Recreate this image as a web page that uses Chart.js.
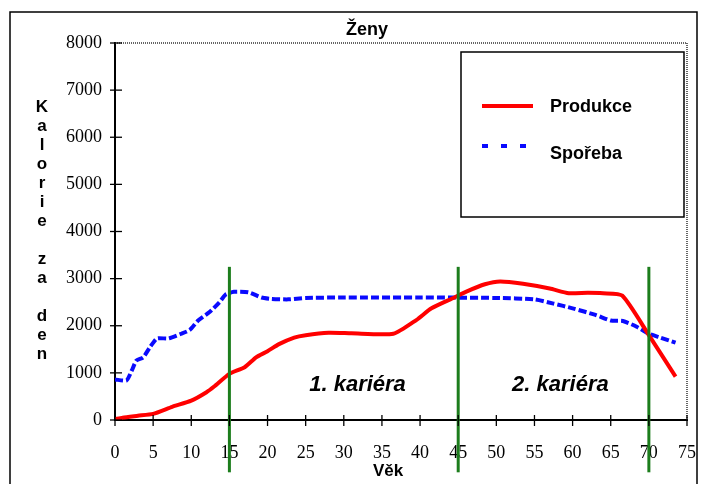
<!DOCTYPE html>
<html>
<head>
<meta charset="utf-8">
<script src="https://cdn.jsdelivr.net/npm/chart.js@4.4.1/dist/chart.umd.min.js"></script>
<style>
  html, body { margin: 0; padding: 0; background: #fff; }
  #wrap { width: 701px; height: 484px; position: relative; }
</style>
</head>
<body>
<div id="wrap"><canvas id="chart" width="701" height="484"></canvas></div>
<script>
// values (age in years, kcal per day)
const produkceAge  = [0, 1, 3, 5, 7.5, 10, 12, 13, 15, 17, 18.5, 20, 21.5, 23.5, 25, 28, 31, 36.5, 39.5, 41.5, 44.5, 46, 48.5, 50.5, 53.5, 57, 59.5, 62, 64, 66.5, 70, 73.5];
const produkceKcal = [20, 50, 90, 130, 280, 410, 590, 710, 980, 1120, 1330, 1460, 1610, 1750, 1800, 1850, 1840, 1830, 2120, 2370, 2600, 2720, 2880, 2940, 2890, 2790, 2690, 2700, 2690, 2640, 1800, 920];

const sporebaAge  = [0, 1.5, 2.2, 2.8, 3.7, 4.6, 5.5, 7, 8.7, 9.8, 10.9, 12.4, 13.7, 14.5, 15.6, 17.5, 19.2, 20.5, 22.7, 25, 30, 40, 50, 55, 57.5, 60, 63, 65, 66.6, 68.4, 70, 71.5, 73.5];
const sporebaKcal = [860, 840, 1050, 1260, 1330, 1550, 1730, 1730, 1830, 1910, 2110, 2290, 2500, 2660, 2720, 2710, 2600, 2570, 2560, 2590, 2600, 2600, 2590, 2560, 2470, 2370, 2230, 2110, 2100, 1980, 1830, 1750, 1640];

const seriesNames = ['Produkce', 'Spořeba'];
const careerBounds = [15, 45, 70];
const careerNames = ['1. kariéra', '2. kariéra'];
const chartTitle = 'Ženy';
const xTitle = 'Věk';
const yTitle = 'Kalorie za den';

const SANS = '"Liberation Sans", Arial, sans-serif';
const SERIF = '"Liberation Serif", "Times New Roman", serif';

function zip(xs, ys) {
    return xs.map((x, i) => ({ x: x, y: ys[i] }));
}

const decor = {
    id: 'decor',
    beforeDraw(chart) {
        const ctx = chart.ctx;
        ctx.save();
        ctx.fillStyle = '#fff';
        ctx.fillRect(0, 0, chart.width, chart.height);
        ctx.restore();
    },
    afterDatasetsDraw(chart) {
        const ctx = chart.ctx;
        const x = chart.scales.x, y = chart.scales.y;
        ctx.save();
        // career boundaries
        ctx.strokeStyle = '#1c7d1c';
        ctx.lineWidth = 3;
        careerBounds.forEach(age => {
            const px = x.getPixelForValue(age);
            ctx.beginPath();
            ctx.moveTo(px, y.getPixelForValue(3250));
            ctx.lineTo(px, y.getPixelForValue(-1110));
            ctx.stroke();
        });
        // career captions
        ctx.fillStyle = '#000';
        ctx.font = 'italic bold 22px ' + SANS;
        ctx.textAlign = 'center';
        ctx.textBaseline = 'middle';
        ctx.fillText(careerNames[0], x.getPixelForValue(31.8), y.getPixelForValue(740));
        ctx.fillText(careerNames[1], x.getPixelForValue(58.4), y.getPixelForValue(740));
        ctx.restore();
    },
    afterDraw(chart) {
        const ctx = chart.ctx;
        const a = chart.chartArea;
        const x = chart.scales.x, y = chart.scales.y;
        ctx.save();

        // outer frame
        ctx.strokeStyle = '#000';
        ctx.lineWidth = 1.5;
        ctx.beginPath();
        ctx.moveTo(10, 484);
        ctx.lineTo(10, 12);
        ctx.lineTo(697, 12);
        ctx.lineTo(697, 484);
        ctx.stroke();

        // dotted plot border top / right
        ctx.setLineDash([1, 1]);
        ctx.strokeStyle = '#333';
        ctx.lineWidth = 1.5;
        ctx.beginPath();
        ctx.moveTo(a.left, a.top);
        ctx.lineTo(a.right, a.top);
        ctx.lineTo(a.right, a.bottom);
        ctx.stroke();
        ctx.setLineDash([]);

        // cross ticks
        ctx.strokeStyle = '#000';
        ctx.lineWidth = 1.3;
        y.ticks.forEach(t => {
            const py = y.getPixelForValue(t.value);
            ctx.beginPath();
            ctx.moveTo(a.left - 5, py);
            ctx.lineTo(a.left + 7, py);
            ctx.stroke();
        });
        x.ticks.forEach(t => {
            const px = x.getPixelForValue(t.value);
            ctx.beginPath();
            ctx.moveTo(px, a.bottom - 5);
            ctx.lineTo(px, a.bottom + 6);
            ctx.stroke();
        });

        // titles
        ctx.fillStyle = '#000';
        ctx.textAlign = 'center';
        ctx.textBaseline = 'middle';
        ctx.font = 'bold 18px ' + SANS;
        ctx.fillText(chartTitle, 367, 30);
        ctx.font = 'bold 17px ' + SANS;
        ctx.fillText(xTitle, 388, 471);
        // vertical stacked y title
        yTitle.split('').forEach((ch, i) => {
            if (ch !== ' ') ctx.fillText(ch, 42, 107 + i * 19);
        });

        // legend
        ctx.lineWidth = 1.5;
        ctx.strokeStyle = '#000';
        ctx.strokeRect(461, 52, 223, 165);
        const ds = chart.data.datasets;
        const rows = [106, 146];
        const textRows = [107, 154];
        ds.forEach((d, i) => {
            ctx.strokeStyle = d.borderColor;
            ctx.lineWidth = 4;
            ctx.setLineDash(i === 0 ? [] : [6, 13]);
            ctx.beginPath();
            ctx.moveTo(482, rows[i]);
            ctx.lineTo(i === 0 ? 533 : 527, rows[i]);
            ctx.stroke();
            ctx.setLineDash([]);
            ctx.fillStyle = '#000';
            ctx.font = 'bold 18px ' + SANS;
            ctx.textAlign = 'left';
            ctx.fillText(d.label, 550, textRows[i]);
        });
        ctx.restore();
    }
};

new Chart(document.getElementById('chart').getContext('2d'), {
    type: 'line',
    data: {
        datasets: [{
            label: seriesNames[0],
            data: zip(produkceAge, produkceKcal),
            borderColor: '#ff0000',
            borderWidth: 4,
            pointRadius: 0,
            tension: 0.2,
            fill: false
        }, {
            label: seriesNames[1],
            data: zip(sporebaAge, sporebaKcal),
            borderColor: '#0a0aff',
            borderWidth: 4,
            borderDash: [8, 3],
            pointRadius: 0,
            tension: 0.2,
            fill: false
        }]
    },
    options: {
        responsive: false,
        animation: false,
        devicePixelRatio: 1,
        layout: {
            padding: { left: 0, right: 14, top: 43, bottom: 0 }
        },
        plugins: {
            legend: { display: false },
            tooltip: { enabled: false }
        },
        scales: {
            x: {
                type: 'linear',
                min: 0,
                max: 75,
                afterFit: s => { s.height = 64; },
                grid: { display: false, drawTicks: true, tickLength: 18 },
                border: { display: true, color: '#000', width: 2 },
                ticks: {
                    stepSize: 5,
                    padding: 4,
                    color: '#000',
                    font: { family: SERIF, size: 18 }
                }
            },
            y: {
                min: 0,
                max: 8000,
                afterFit: s => { s.width = 115; },
                grid: { display: false, drawTicks: false },
                border: { display: true, color: '#000', width: 2 },
                ticks: {
                    stepSize: 1000,
                    padding: 13,
                    color: '#000',
                    font: { family: SERIF, size: 18 },
                    callback: v => String(v)
                }
            }
        }
    },
    plugins: [decor]
});
</script>
</body>
</html>
